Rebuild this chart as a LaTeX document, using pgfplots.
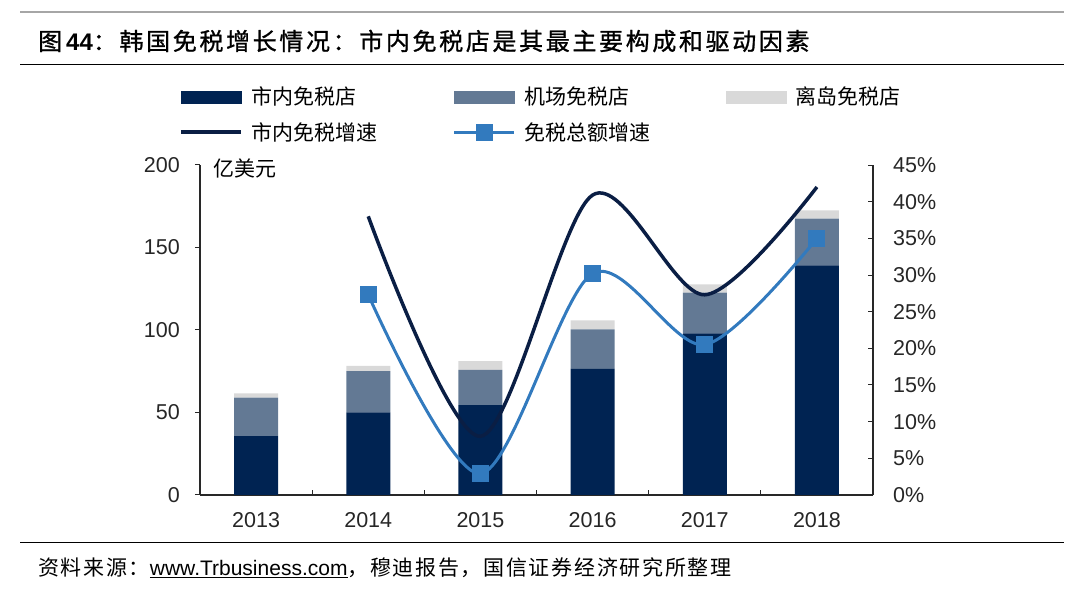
\documentclass[border=0pt]{standalone}
\usepackage{fontspec}
\setmainfont{Liberation Sans}
\newfontfamily\cjk{Noto Sans CJK SC}
\newfontfamily\cjktitle[LetterSpace=11,FakeBold=1]{Noto Sans CJK SC}
\newfontfamily\cjksrc[LetterSpace=8]{Noto Sans CJK SC}
\usepackage{pgfplots}
\pgfplotsset{compat=1.18}

\definecolor{cityc}{RGB}{0,35,82}
\definecolor{airc}{RGB}{99,121,148}
\definecolor{islc}{RGB}{217,217,217}
\definecolor{cityline}{RGB}{10,30,68}
\definecolor{totline}{RGB}{50,122,190}
\definecolor{axisc}{RGB}{40,40,40}

% 亿美元
\pgfplotstableread{
x city air island
0 36.0 23.0 2.6
1 50.0 25.0 3.3
2 54.5 21.3 5.4
3 76.4 24.0 5.5
4 98.0 24.6 5.1
5 139.2 28.3 5.0
}\salesdata

\begin{document}
\begin{tikzpicture}[x=1pt,y=1pt]
\useasboundingbox (0,0) rectangle (1080,592);

% title block
\draw[gray!70, line width=1.2pt] (20,580) -- (1064,580);
\node[anchor=west, inner sep=0pt] at (38,551)
  {\fontsize{24}{28}\selectfont{\cjktitle 图}\,{\bfseries 44}{\cjktitle ：韩国免税增长情况：市内免税店是其最主要构成和驱动因素}};
\draw[black, line width=1pt] (20,527) -- (1064,527);

\pgfplotsset{
  base/.style={
    scale only axis, width=673pt, height=330pt,
    at={(200pt,97pt)}, anchor=south west,
    xmin=-0.5, xmax=5.5,
    axis line style={axisc, line width=1.2pt},
    major tick length=5pt, minor tick length=5pt,
    tick style={axisc, line width=1pt},
    /pgf/number format/assume math mode=true,
    tick label style={font=\fontsize{21.5}{24}\selectfont, text=black!85},
  }
}

% bars, left axis
\begin{axis}[base,
  ybar stacked, bar width=44pt,
  ymin=0, ymax=200, ytick={0,50,...,200},
  axis x line*=bottom, axis y line*=left,
  xtick={0,...,5}, xticklabels={2013,2014,2015,2016,2017,2018},
  minor xtick={0.5,1.5,2.5,3.5,4.5},
  major x tick style={draw=none},
  xtick align=inside, ytick align=outside,
  xticklabel style={inner sep=0pt, yshift=-17pt},
  yticklabel style={inner sep=0pt, xshift=-15pt},
]
\addplot[fill=cityc, draw=none] table[x=x, y=city] {\salesdata};
\addplot[fill=airc, draw=none] table[x=x, y=air] {\salesdata};
\addplot[fill=islc, draw=none] table[x=x, y=island] {\salesdata};
\end{axis}

% growth lines, right axis
\begin{axis}[base,
  ymin=0, ymax=45, ytick={0,5,...,45},
  axis y line*=right, axis x line=none,
  ytick align=inside,
  yticklabel={\pgfmathprintnumber{\tick}\%},
  yticklabel style={inner sep=0pt, xshift=20pt, anchor=west},
  legend columns=3,
  legend cell align=left,
  legend style={at={(-0.0312,1.2364)}, anchor=north west, draw=none,
    inner sep=0pt, row sep=16pt,
    font=\cjk\fontsize{21}{23}\selectfont,
    nodes={inner sep=0pt},
    /tikz/every odd column/.append style={column sep=9pt},
    /tikz/every even column/.append style={column sep=75pt}},
  legend image code/.code={\draw[mark repeat=2, mark phase=2, #1] plot coordinates {(0pt,0pt) (30pt,0pt) (60pt,0pt)};},
]
\addlegendimage{legend image code/.code={\fill[cityc] (0pt,-6pt) rectangle (60pt,6pt);}}
\addlegendentry{市内免税店}
\addlegendimage{legend image code/.code={\fill[airc] (0pt,-6pt) rectangle (60pt,6pt);}}
\addlegendentry{机场免税店}
\addlegendimage{legend image code/.code={\fill[islc] (0pt,-6pt) rectangle (60pt,6pt);}}
\addlegendentry{离岛免税店}

\addplot[cityline, line width=3.5pt, smooth] coordinates {
  (1,38.0) (2,8.0) (3,40.9) (4,27.3) (5,42.0)
};
\addlegendentry{市内免税增速}
\addplot[totline, line width=3pt, smooth, mark=square*, mark size=7pt,
  mark options={solid, fill=totline, draw=none}] coordinates {
  (1,27.3) (2,2.9) (3,30.2) (4,20.5) (5,35.0)
};
\addlegendentry{免税总额增速}
\end{axis}

\node[anchor=west, inner sep=0pt] at (213,424) {\cjk\fontsize{21}{23}\selectfont 亿美元};

% source
\draw[black, line width=1pt] (20,49) -- (1064,49);
\node[anchor=west, inner sep=0pt] at (38,24)
  {\fontsize{21}{24}\selectfont{\cjksrc 资料来源：}\underline{www.Trbusiness.com}{\cjksrc ，穆迪报告，国信证券经济研究所整理}};
\end{tikzpicture}
\end{document}
